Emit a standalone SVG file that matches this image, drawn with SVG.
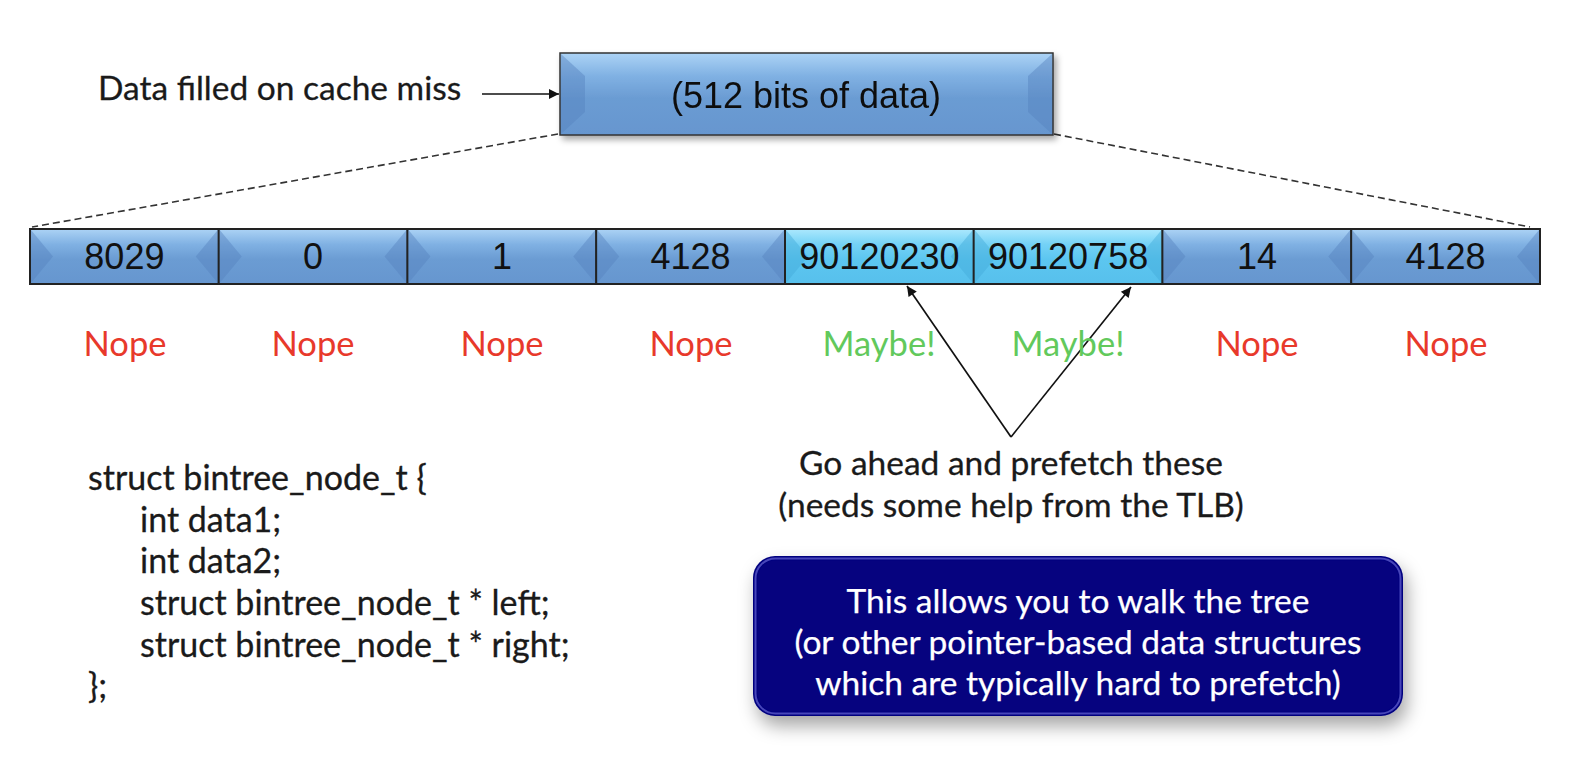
<svg xmlns="http://www.w3.org/2000/svg" width="1592" height="776" viewBox="0 0 1592 776">
  <style>
    .gill { font-family: Lato, "Open Sans", "Liberation Sans", sans-serif; }
    .num { font-family: "Liberation Sans", Arial, sans-serif; font-size: 36px; fill: #111; text-anchor: middle; }
    .lbl { font-size: 34.5px; text-anchor: middle; }
    .nope { fill: #e8392b; }
    .maybe { fill: #62c95c; }
    .body { font-size: 33.5px; fill: #1a1a1a; stroke: #1a1a1a; stroke-width: 0.3; }
    .code { font-size: 34px; }
    .white { font-size: 33.5px; fill: #ffffff; text-anchor: middle; stroke: #ffffff; stroke-width: 0.25; }
    .cellb { fill: url(#gBlue); stroke: #222; stroke-width: 2; }
    .cellc { fill: url(#gCyan); stroke: #222; stroke-width: 2; }
    .sideb { fill: #5683be; opacity: 0.45; }
    .sidec { fill: #43aad9; opacity: 0.45; }
    .dash { stroke: #333; stroke-width: 1.6; stroke-dasharray: 7 4; fill: none; }
    .arrow { stroke: #111; stroke-width: 1.7; fill: none; marker-end: url(#ah); }
  </style>
  <defs>
    <linearGradient id="gBlue" x1="0" y1="0" x2="0" y2="1">
      <stop offset="0" stop-color="#acd3f5"/>
      <stop offset="0.28" stop-color="#80b1e3"/>
      <stop offset="0.55" stop-color="#6b9cd3"/>
      <stop offset="1" stop-color="#6696cf"/>
    </linearGradient>
    <linearGradient id="gCyan" x1="0" y1="0" x2="0" y2="1">
      <stop offset="0" stop-color="#ace8fd"/>
      <stop offset="0.28" stop-color="#74d2f6"/>
      <stop offset="0.55" stop-color="#5cc6f0"/>
      <stop offset="1" stop-color="#57c0ec"/>
    </linearGradient>
    <marker id="ah" viewBox="0 0 10 10" refX="10" refY="5" markerUnits="userSpaceOnUse" markerWidth="13" markerHeight="10" orient="auto">
      <path d="M0,0 L10,5 L0,10 Z" fill="#111"/>
    </marker>
    <filter id="sh" x="-10%" y="-20%" width="125%" height="160%">
      <feDropShadow dx="3" dy="4" stdDeviation="3" flood-color="#000" flood-opacity="0.35"/>
    </filter>
    <filter id="sh2" x="-10%" y="-20%" width="125%" height="170%">
      <feDropShadow dx="4" dy="10" stdDeviation="9" flood-color="#000" flood-opacity="0.35"/>
    </filter>
  </defs>

  <rect width="1592" height="776" fill="#ffffff"/>

  <g id="connectors">
    <line class="dash" x1="558" y1="134" x2="32" y2="227"/>
    <line class="dash" x1="1054" y1="134" x2="1530" y2="227"/>
    <line class="arrow" x1="482" y1="94" x2="559" y2="94"/>
    <line class="arrow" x1="1011" y1="437" x2="907" y2="286"/>
    <line class="arrow" x1="1011" y1="437" x2="1131" y2="287"/>
  </g>

  <g id="cache-block" filter="url(#sh)">
    <rect x="560" y="53" width="493" height="82" fill="url(#gBlue)" stroke="#333" stroke-width="1.5"/>
    <polygon class="sideb" points="561,54 585,76 585,112 561,134"/>
    <polygon class="sideb" points="1052,54 1028,76 1028,112 1052,134"/>
    <text class="num" x="806" y="108">(512 bits of data)</text>
  </g>

  <g id="label-filled">
    <text class="gill body" x="98" y="100">Data filled on cache miss</text>
  </g>

  <g id="cells">
    <g id="cell-1">
      <rect class="cellb" x="30" y="229" width="188.75" height="55"/>
      <polygon class="sideb" points="31,230 53,256.5 31,283"/>
      <polygon class="sideb" points="217.75,230 195.75,256.5 217.75,283"/>
      <text class="num" x="124.4" y="269">8029</text>
    </g>
    <g id="cell-2">
      <rect class="cellb" x="218.75" y="229" width="188.75" height="55"/>
      <polygon class="sideb" points="219.75,230 241.75,256.5 219.75,283"/>
      <polygon class="sideb" points="406.5,230 384.5,256.5 406.5,283"/>
      <text class="num" x="313.1" y="269">0</text>
    </g>
    <g id="cell-3">
      <rect class="cellb" x="407.5" y="229" width="188.75" height="55"/>
      <polygon class="sideb" points="408.5,230 430.5,256.5 408.5,283"/>
      <polygon class="sideb" points="595.25,230 573.25,256.5 595.25,283"/>
      <text class="num" x="501.9" y="269">1</text>
    </g>
    <g id="cell-4">
      <rect class="cellb" x="596.25" y="229" width="188.75" height="55"/>
      <polygon class="sideb" points="597.25,230 619.25,256.5 597.25,283"/>
      <polygon class="sideb" points="784,230 762,256.5 784,283"/>
      <text class="num" x="690.6" y="269">4128</text>
    </g>
    <g id="cell-5">
      <rect class="cellc" x="785" y="229" width="188.75" height="55"/>
      <polygon class="sidec" points="786,230 808,256.5 786,283"/>
      <polygon class="sidec" points="972.75,230 950.75,256.5 972.75,283"/>
      <text class="num" x="879.4" y="269">90120230</text>
    </g>
    <g id="cell-6">
      <rect class="cellc" x="973.75" y="229" width="188.75" height="55"/>
      <polygon class="sidec" points="974.75,230 996.75,256.5 974.75,283"/>
      <polygon class="sidec" points="1161.5,230 1139.5,256.5 1161.5,283"/>
      <text class="num" x="1068.1" y="269">90120758</text>
    </g>
    <g id="cell-7">
      <rect class="cellb" x="1162.5" y="229" width="188.75" height="55"/>
      <polygon class="sideb" points="1163.5,230 1185.5,256.5 1163.5,283"/>
      <polygon class="sideb" points="1350.25,230 1328.25,256.5 1350.25,283"/>
      <text class="num" x="1256.9" y="269">14</text>
    </g>
    <g id="cell-8">
      <rect class="cellb" x="1351.25" y="229" width="188.75" height="55"/>
      <polygon class="sideb" points="1352.25,230 1374.25,256.5 1352.25,283"/>
      <polygon class="sideb" points="1539,230 1517,256.5 1539,283"/>
      <text class="num" x="1445.6" y="269">4128</text>
    </g>
  </g>

  <g id="verdicts" class="gill">
    <text class="lbl nope" x="125" y="356">Nope</text>
    <text class="lbl nope" x="313" y="356">Nope</text>
    <text class="lbl nope" x="502" y="356">Nope</text>
    <text class="lbl nope" x="691" y="356">Nope</text>
    <text class="lbl maybe" x="879" y="356">Maybe!</text>
    <text class="lbl maybe" x="1068" y="356">Maybe!</text>
    <text class="lbl nope" x="1257" y="356">Nope</text>
    <text class="lbl nope" x="1446" y="356">Nope</text>
  </g>

  <g id="prefetch-note" class="gill">
    <text class="body" x="1011" y="475" text-anchor="middle">Go ahead and prefetch these</text>
    <text class="body" x="1011" y="517" text-anchor="middle">(needs some help from the TLB)</text>
  </g>

  <g id="struct-code" class="gill">
    <text class="body code" x="88" y="490">struct bintree_node_t {</text>
    <text class="body code" x="140" y="532">int data1;</text>
    <text class="body code" x="140" y="573">int data2;</text>
    <text class="body code" x="140" y="615">struct bintree_node_t * left;</text>
    <text class="body code" x="140" y="657">struct bintree_node_t * right;</text>
    <text class="body code" x="88" y="698">};</text>
  </g>

  <g id="callout">
    <rect x="753" y="556" width="650" height="160" rx="22" ry="22" fill="#06037f" filter="url(#sh2)"/>
    <rect x="755.5" y="558.5" width="645" height="155" rx="20" ry="20" fill="none" stroke="#5a58c8" stroke-width="2" opacity="0.8"/>
    <rect x="757.5" y="560.5" width="641" height="151" rx="18" ry="18" fill="#06037f"/>
    <g class="gill">
      <text class="white" x="1078" y="613">This allows you to walk the tree</text>
      <text class="white" x="1078" y="654">(or other pointer-based data structures</text>
      <text class="white" x="1078" y="695">which are typically hard to prefetch)</text>
    </g>
  </g>
</svg>
